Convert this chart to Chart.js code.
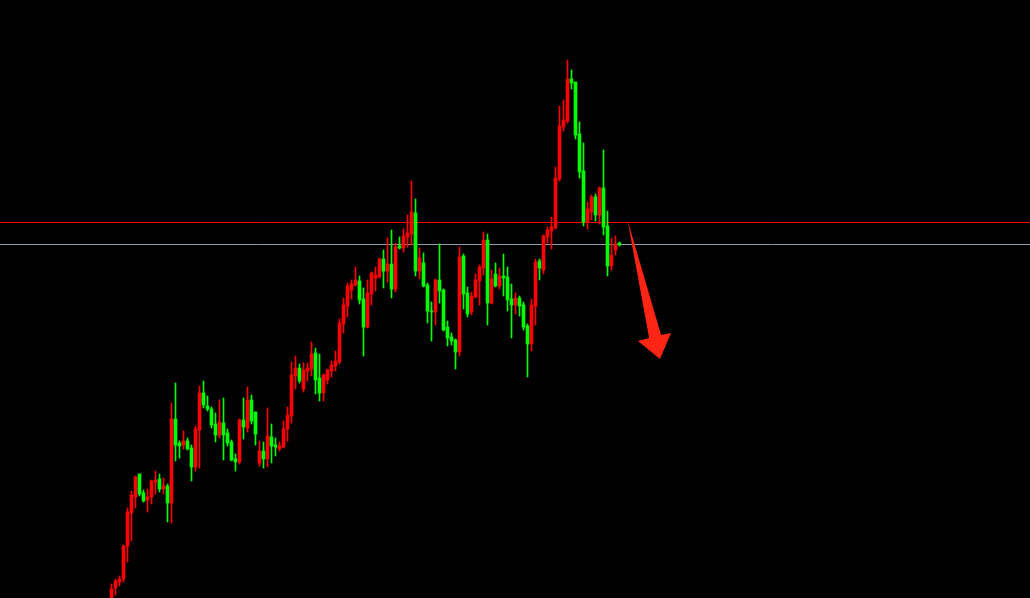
<!DOCTYPE html>
<html>
<head>
<meta charset="utf-8">
<script src="https://cdn.jsdelivr.net/npm/chart.js@4.4.1/dist/chart.umd.min.js"></script>
<style>
  html, body { margin: 0; padding: 0; background: #000; }
  #wrap { width: 1030px; height: 598px; position: relative; }
</style>
</head>
<body>
<div id="wrap"><canvas id="chart"></canvas></div>
<script>
// OHLC, one candle per slot
const open = [-2,12,18,21,54,87,103,126,107,100,103,118,121,111,114,97,181,157,155,159,152,133,170,207,194,191,176,165,177,167,158,141,138,180,172,200,188,137,149,141,163,155,151,153,171,184,224,232,211,229,231,247,222,207,220,229,234,238,276,294,310,315,319,301,273,306,322,323,341,329,336,311,354,352,363,366,387,329,337,315,289,288,320,310,273,263,260,248,344,307,288,303,319,332,360,297,326,314,324,323,301,295,302,295,274,256,294,339,330,363,369,372,421,473,479,521,518,466,429,378,388,403,385,412,374,334,350,357];
const high = [16,21,24,55,92,109,124,126,110,111,120,129,126,122,116,197,217,159,169,162,155,174,214,219,204,193,187,200,202,171,160,146,181,202,213,205,188,159,158,192,176,162,158,179,193,238,244,236,237,237,258,252,246,226,231,239,249,281,302,317,320,333,324,312,320,328,333,342,350,362,370,357,363,371,385,419,401,352,347,317,298,321,356,311,279,267,261,353,346,313,308,326,335,368,366,330,337,332,346,333,316,307,304,298,276,301,341,341,365,373,383,433,494,500,540,530,518,478,457,398,405,406,413,450,389,362,364,358];
const low = [-5,5,14,18,38,59,92,104,98,88,96,106,108,106,78,77,139,142,151,150,119,129,132,192,189,172,158,162,140,154,139,129,136,161,168,176,155,134,132,133,137,144,149,152,159,177,211,217,208,219,224,206,199,199,216,223,229,236,267,283,301,314,296,244,272,295,309,322,312,318,302,308,351,348,353,355,324,321,313,277,259,275,297,269,254,255,231,244,291,283,285,302,295,325,275,296,313,311,304,289,262,286,284,270,223,249,275,320,326,357,351,371,419,469,477,511,461,422,374,371,380,379,376,365,324,330,345,354];
const close = [11,19,21,54,88,105,123,106,99,103,119,120,111,114,97,181,155,154,159,151,133,171,207,195,191,175,165,178,165,157,140,138,180,173,200,179,166,149,141,164,154,153,154,171,185,225,232,219,230,232,246,220,207,225,230,235,239,277,295,314,316,320,300,273,307,327,325,341,329,336,311,353,352,364,367,388,329,342,314,289,288,320,309,270,262,259,248,343,306,286,304,320,333,360,297,321,314,324,322,300,295,302,294,273,256,295,338,332,364,370,373,422,474,480,521,517,465,428,378,391,403,385,412,373,334,345,356,355];

// horizontal levels
const redLevel = 377.5;
const greyLevel = 355.5;

// arrow outline (slot, price)
const arrowX = [129, 137.4, 139.9, 137.1, 131.6, 134.4];
const arrowY = [380, 265, 267, 241, 259, 262];

const xMin = -27.875, xMax = 229.625;
const yMin = 2, yMax = 600;

const UP = '#ff0000', DOWN = '#00ff00';
const colors = open.map((o, i) => close[i] > o ? UP : DOWN);
const wicks = open.map((o, i) => ({ x: i, y: [low[i], high[i]] }));
const bodies = open.map((o, i) => ({ x: i, y: [Math.min(o, close[i]), Math.max(o, close[i])] }));

const arrowPlugin = {
  id: 'arrow',
  afterDatasetsDraw(chart) {
    const { ctx, scales } = chart;
    ctx.save();
    ctx.beginPath();
    arrowX.forEach((v, i) => {
      const px = scales.x.getPixelForValue(v);
      const py = scales.y.getPixelForValue(arrowY[i]);
      if (i === 0) ctx.moveTo(px, py); else ctx.lineTo(px, py);
    });
    ctx.closePath();
    ctx.fillStyle = '#ff2514';
    ctx.fill();
    ctx.restore();
  }
};

new Chart(document.getElementById('chart'), {
  type: 'bar',
  data: {
    datasets: [
      {
        type: 'line',
        data: [{ x: xMin, y: redLevel }, { x: xMax, y: redLevel }],
        borderColor: '#ff0000',
        borderWidth: 1,
        pointRadius: 0,
        order: 4,
      },
      {
        type: 'line',
        data: [{ x: xMin, y: greyLevel }, { x: xMax, y: greyLevel }],
        borderColor: '#8f9cac',
        borderWidth: 1,
        pointRadius: 0,
        order: 3,
      },
      {
        data: wicks,
        backgroundColor: colors,
        barThickness: 1,
        grouped: false,
        order: 2,
      },
      {
        data: bodies,
        backgroundColor: colors,
        barThickness: 3,
        grouped: false,
        order: 1,
      },
    ],
  },
  options: {
    responsive: true,
    maintainAspectRatio: false,
    animation: false,
    layout: { padding: 0 },
    plugins: { legend: { display: false }, tooltip: { enabled: false } },
    scales: {
      x: { type: 'linear', min: xMin, max: xMax, offset: false, display: false },
      y: { min: yMin, max: yMax, display: false },
    },
  },
  plugins: [arrowPlugin],
});
</script>
</body>
</html>
